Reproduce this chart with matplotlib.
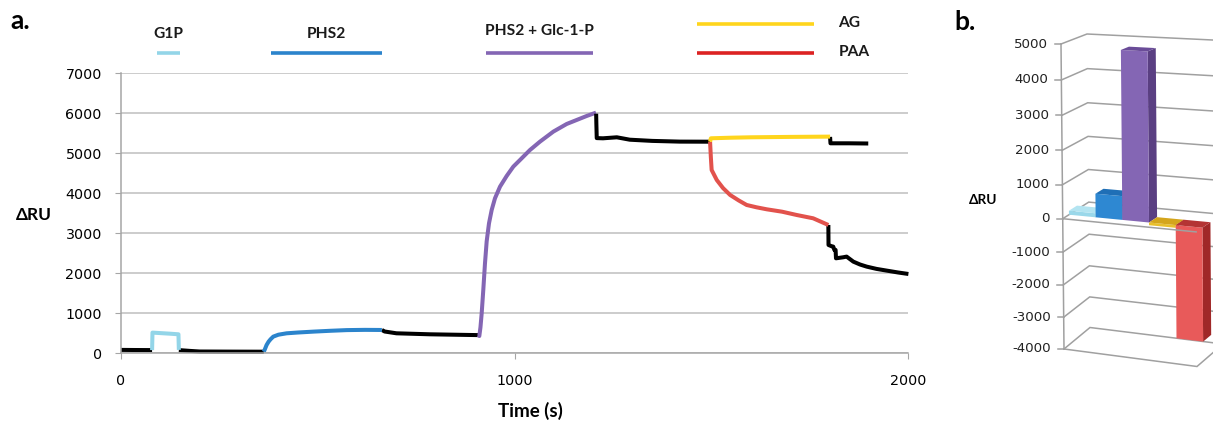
import matplotlib
matplotlib.use('Agg')
import matplotlib.pyplot as plt
import numpy as np
from matplotlib.patches import Polygon
import matplotlib.transforms as mtransforms

plt.rcParams['font.family'] = ['DejaVu Sans']

# ------------------------------------------------------------------ data (panel a)
base1_t = [0, 40, 79]
base1_v = [85, 82, 80]
g1p_t = [79, 80, 100, 125, 146, 147]
g1p_v = [80, 517, 505, 490, 475, 85]
base2_t = [147, 175, 200, 280, 363]
base2_v = [80, 60, 45, 42, 40]
phs2_t = [363, 366, 370, 375, 380, 387, 400, 421, 450, 489, 530, 574, 620, 663]
phs2_v = [40, 110, 208, 290, 350, 417, 465, 500, 520, 542, 562, 580, 586, 583]
base3_t = [663, 670, 700, 785, 887, 908]
base3_v = [583, 545, 500, 475, 458, 455]
cplx_t = [908, 910.6, 913.5, 916.6, 920.8, 925.0, 929.3, 935.2, 942.0, 950.4, 963.2, 980.1,
          997.0, 1014, 1039.4, 1064.8, 1098.7, 1132.6, 1158, 1183.4, 1207.1]
cplx_v = [455, 432, 650, 1000, 1600, 2250, 2800, 3250, 3583, 3875, 4167, 4433,
          4667, 4833, 5083, 5292, 5542, 5733, 5833, 5933, 6017]
base4_t = [1207.5, 1208, 1209, 1225, 1260, 1293, 1350, 1420, 1497]
base4_v = [5990, 5750, 5380, 5375, 5400, 5340, 5310, 5292, 5290]
ag_t = [1497, 1499, 1550, 1600, 1700, 1802]
ag_v = [5290, 5375, 5390, 5400, 5410, 5417]
base5_t = [1802, 1803, 1850, 1899]
base5_v = [5410, 5250, 5250, 5245]
paa_t = [1497, 1499, 1501, 1514, 1530, 1548, 1570, 1590, 1615, 1641, 1680, 1717, 1759, 1797.6]
paa_v = [5290, 4900, 4583, 4333, 4130, 3958, 3820, 3708, 3650, 3600, 3540, 3458, 3375, 3208]
base6_t = [1797.6, 1798, 1805, 1810, 1813, 1816, 1817, 1835, 1844, 1861, 1878, 1895,
           1920, 1946, 1975, 2001]
base6_v = [3208, 2708, 2680, 2667, 2583, 2583, 2375, 2400, 2417, 2292, 2220, 2167,
           2110, 2067, 2020, 1983]

inj_names = ['G1P', 'PHS2', 'PHS2 + Glc-1-P', 'AG', 'PAA']
inj_spans = [(90.7, 150), (380, 662.5), (927.6, 1198.7), (1463, 1762), (1463, 1762)]
x_ticks = [0, 1000, 2000]
y_ticks = [0, 1000, 2000, 3000, 4000, 5000, 6000, 7000]

# ------------------------------------------------------------------ data (panel b)
bar_labels = ['G1P', 'PHS2', 'PHS2 + Glc-1-P', 'AG', 'PAA']
bar_values = [120, 700, 4850, -80, -3400]
b_ticks = [-4000, -3000, -2000, -1000, 0, 1000, 2000, 3000, 4000, 5000]

# ------------------------------------------------------------------ styles
C_BLACK = '#000000'
C_G1P = '#93d5e8'
C_PHS2 = '#2b84cc'
C_CPLX = '#8466b4'
C_AG = '#ffd51c'
C_PAA_LINE = '#e2524c'
C_PAA_LBL = '#dc2222'
GRID = '#bfbfbf'
AXC = '#a6a6a6'
BOLD = ['Lato', 'DejaVu Sans']

W, H = 1213, 422
fig = plt.figure(figsize=(W / 100, H / 100), dpi=100)

# ------------------------------------------------------------------ panel a
ax = fig.add_axes([121 / W, 1 - 353.3 / H, (908 - 121) / W, 280 / H])
ax.set_xlim(0, 2000)
ax.set_ylim(0, 7000)
ax.set_xticks(x_ticks)
ax.set_yticks(y_ticks)
ax.yaxis.grid(True, color=GRID, lw=1.1)
ax.set_axisbelow(True)
for s in ['top', 'right']:
    ax.spines[s].set_visible(False)
for s in ['left', 'bottom']:
    ax.spines[s].set_color(AXC)
    ax.spines[s].set_linewidth(1.1)
ax.tick_params(axis='x', length=4, color=AXC, pad=11, labelsize=10.3)
ax.tick_params(axis='y', length=4.3, color=AXC, pad=9.5, labelsize=10.3)

lw = 2.9
kw = dict(lw=lw, solid_joinstyle='round', solid_capstyle='butt', clip_on=False)
for t, v in [(base1_t, base1_v), (base2_t, base2_v), (base3_t, base3_v),
             (base5_t, base5_v), (base6_t, base6_v)]:
    ax.plot(t, v, color=C_BLACK, **kw)
ax.plot(g1p_t, g1p_v, color=C_G1P, **kw)
ax.plot(phs2_t, phs2_v, color=C_PHS2, **kw)
ax.plot(cplx_t, cplx_v, color=C_CPLX, **kw)
ax.plot(base4_t, base4_v, color=C_BLACK, **kw)
ax.plot(paa_t, paa_v, color=C_PAA_LINE, **kw)
ax.plot(ag_t, ag_v, color=C_AG, **kw)

# injection label bars above the plot
trans = mtransforms.blended_transform_factory(ax.transData, ax.transAxes)
lbl_colors = [C_G1P, C_PHS2, C_CPLX, C_AG, C_PAA_LBL]
bar_y = [1.0714, 1.0714, 1.0714, 1.176, 1.0714]
for (a, b), c, yy in zip(inj_spans, lbl_colors, bar_y):
    ax.plot([a, b], [yy, yy], transform=trans, color=c, lw=2.6,
            solid_capstyle='butt', clip_on=False)
txt_kw = dict(transform=trans, fontsize=11.2, fontweight='bold', family=BOLD,
              color='#1a1a1a')
for i in range(3):
    a, b = inj_spans[i]
    ax.text((a + b) / 2, 1.14 if i < 2 else 1.1527, inj_names[i], ha='center',
            va='center', **txt_kw)
ax.text(inj_spans[3][1] + 61, 1.1786, inj_names[3], ha='left', va='center', **txt_kw)
ax.text(inj_spans[4][1] + 61, 1.077, inj_names[4], ha='left', va='center', **txt_kw)

fig.text(10 / W, 1 - 21 / H, 'a.', fontsize=19, fontweight='bold', family=BOLD,
         ha='left', va='center')
fig.text(16 / W, 1 - 215 / H, 'ΔRU', fontsize=12.5, fontweight='bold', family=BOLD,
         ha='left', va='center')
fig.text(530 / W, 1 - 410.7 / H, 'Time (s)', fontsize=13.5, fontweight='bold',
         family=BOLD, ha='center', va='center')

# ------------------------------------------------------------------ panel b (3-D column look)
axb = fig.add_axes([930 / W, 0, (W - 930) / W, 1])
axb.set_xlim(930, W)
axb.set_ylim(H, 0)
axb.axis('off')
axb.patch.set_visible(False)

TOP = {'FL': (1061, 44), 'FR': (1195, 51.5), 'BL': (1087, 34), 'BR': (1221, 40.4)}
BOT = {'FL': (1064, 349), 'FR': (1197, 366.5), 'BL': (1090, 327.5), 'BR': (1223, 344)}
B_VMIN, B_VMAX = b_ticks[0], b_ticks[-1]


def persp(v):
    k = v / 1000.0
    return -33.55 * k - 0.262 * k * k


def frac(v):
    return (persp(v) - persp(B_VMAX)) / (persp(B_VMIN) - persp(B_VMAX))


def bilerp(c, u, w):
    fl, fr, bl, br = (np.array(c[k], float) for k in ('FL', 'FR', 'BL', 'BR'))
    front = fl + (fr - fl) * u
    back = bl + (br - bl) * u
    return front + (back - front) * w


def P(u, w, v):
    s = frac(v)
    return tuple(bilerp(TOP, u, w) * (1 - s) + bilerp(BOT, u, w) * s)


gkw = dict(color='#a0a0a0', lw=1.1, solid_joinstyle='miter', clip_on=False)
for v in b_ticks:
    pts = [P(0, 0, v), P(0, 1, v), P(1, 1, v)]
    axb.plot([p[0] for p in pts], [p[1] for p in pts], zorder=1, **gkw)
    x0, y0 = P(0, 0, v)
    axb.plot([x0 - 6, x0], [y0, y0], zorder=1, **gkw)
    axb.text(x0 - 13, y0, f'{v}', ha='right', va='center', fontsize=9.6,
             color='#222222')
pts = [P(0, 0, B_VMIN), P(0, 0, B_VMAX)]
axb.plot([p[0] for p in pts], [p[1] for p in pts], zorder=1, **gkw)
pts = [P(0, 0, B_VMIN), P(1, 0, B_VMIN), P(1, 1, B_VMIN)]
axb.plot([p[0] for p in pts], [p[1] for p in pts], zorder=1, **gkw)

bar_front = ['#9ad8ea', '#2e88d2', '#8466b4', '#e8bf2c', '#e85a5a']
bar_top = ['#b3e4f1', '#1f6fb6', '#6a4c98', '#d4a51c', '#b43434']
bar_side = ['#78bcd2', '#1b5e9c', '#5a3f82', '#b88e14', '#a02828']
n = len(bar_values)
w0, w1 = 0.24, 0.55
for i, val in enumerate(bar_values):
    u0, u1 = i / n, (i + 1) / n
    top = max(val, 0)
    z = 3 + i
    front = [P(u0, w0, 0), P(u1, w0, 0), P(u1, w0, val), P(u0, w0, val)]
    side = [P(u1, w0, 0), P(u1, w1, 0), P(u1, w1, val), P(u1, w0, val)]
    topf = [P(u0, w0, top), P(u1, w0, top), P(u1, w1, top), P(u0, w1, top)]
    axb.add_patch(Polygon(side, closed=True, fc=bar_side[i], ec='none', zorder=z))
    axb.add_patch(Polygon(front, closed=True, fc=bar_front[i], ec='none', zorder=z))
    axb.add_patch(Polygon(topf, closed=True, fc=bar_top[i], ec='none', zorder=z))

pts = [P(0, 0, 0), P(1, 0, 0)]
axb.plot([p[0] for p in pts], [p[1] for p in pts], zorder=20, **gkw)

fig.text(954 / W, 1 - 22 / H, 'b.', fontsize=19, fontweight='bold', family=BOLD,
         ha='left', va='center')
fig.text(969 / W, 1 - 200 / H, 'ΔRU', fontsize=9.8, fontweight='bold', family=BOLD,
         ha='left', va='center')

fig.savefig('out.png', dpi=100)
